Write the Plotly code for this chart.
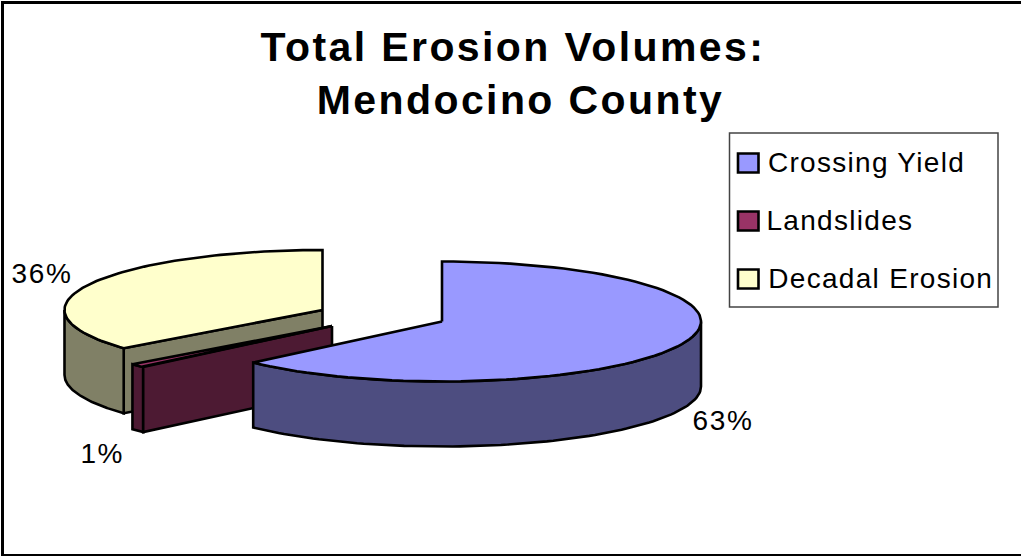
import numpy as np
import plotly.graph_objects as go

title_lines = ["Total Erosion Volumes:", "Mendocino County"]
categories = ["Crossing Yield", "Landslides", "Decadal Erosion"]
values = [63, 1, 36]
top_colors = ["#9999FF", "#993366", "#FFFFCC"]
wall_colors = ["#4D4D80", "#4D1A33", "#808066"]

# Layout of the drawing, in page pixels
centers = [(442, 321.5), (332, 326), (322.5, 310)]
radii = [(259, 60), (259, 60), (258, 60)]
depth = 65
draw_order = [2, 1, 0]
label_xy = [(723, 420), (102, 453), (42, 273)]
legend_box = (729.5, 133, 998, 307)
legend_y = [163, 221, 279]
legend_text_y = [162, 220, 278]
legend_text_x = [866, 840, 880]
title_xy = [(512.5, 47), (520, 100)]
LINE = "#000000"


def rim(c, r, t0, t1, dy=0, n=90):
    t = np.radians(np.linspace(t0, t1, n))
    return c[0] + r[0] * np.sin(t), c[1] - r[1] * np.cos(t) + dy


def poly(x, y, color):
    return go.Scatter(x=list(x) + [x[0]], y=list(y) + [y[0]], mode="lines", fill="toself",
                      fillcolor=color, line=dict(color=LINE, width=2.6), hoverinfo="skip",
                      showlegend=False)


edges = np.cumsum([0] + values) / sum(values) * 360
fig = go.Figure()

for i in draw_order:
    c, r = centers[i], radii[i]
    t0, t1 = edges[i], edges[i + 1]
    # outer wall: the part of the rim facing the viewer (90..270 degrees)
    a, b = max(t0, 90), min(t1, 270)
    xa, ya = rim(c, r, a, b)
    xb, yb = rim(c, r, a, b, depth)
    if i == 2:
        # cut face on the starting edge of the slice
        ex, ey = rim(c, r, t0, t0, n=1)
        fig.add_trace(poly([c[0], ex[0], ex[0], c[0]],
                           [c[1], ey[0], ey[0] + depth, c[1] + depth], wall_colors[i]))
    fig.add_trace(poly(np.r_[xa, xb[::-1]], np.r_[ya, yb[::-1]], wall_colors[i]))
    if i == 1:
        # cut face on the starting edge, in front of the slim outer wall
        ex, ey = rim(c, r, t0, t0, n=1)
        fig.add_trace(poly([c[0], ex[0], ex[0], c[0]],
                           [c[1], ey[0], ey[0] + depth, c[1] + depth], wall_colors[i]))
    # top face
    xt, yt = rim(c, r, t0, t1)
    fig.add_trace(poly(np.r_[c[0], xt], np.r_[c[1], yt], top_colors[i]))

annotations = []
for txt, (x, y) in zip(title_lines, title_xy):
    annotations.append(dict(x=x, y=y, text=f"<b>{txt}</b>", showarrow=False, xanchor="center",
                            yanchor="middle", font=dict(size=41, color="#000000",
                                                        family="Liberation Sans")))
for v, (x, y) in zip(values, label_xy):
    annotations.append(dict(x=x, y=y, text=f"{v}%", showarrow=False, xanchor="center",
                            yanchor="middle", font=dict(size=28, color="#000000",
                                                        family="Liberation Sans")))
for name, x, y in zip(categories, legend_text_x, legend_text_y):
    annotations.append(dict(x=x, y=y, text=name, showarrow=False, xanchor="center",
                            yanchor="middle", font=dict(size=28, color="#000000",
                                                        family="Liberation Sans")))

shapes = [
    dict(type="rect", x0=legend_box[0], y0=legend_box[1], x1=legend_box[2], y1=legend_box[3],
         line=dict(color="#444444", width=1.5), fillcolor="#FFFFFF", layer="below"),
    dict(type="line", x0=2.5, x1=2.5, y0=2.5, y1=556, line=dict(color="#000000", width=3)),
    dict(type="line", x0=1, x1=1021, y0=2.5, y1=2.5, line=dict(color="#000000", width=3)),
    dict(type="line", x0=1, x1=1021, y0=555, y1=555, line=dict(color="#000000", width=2)),
]
for col, y in zip(top_colors, legend_y):
    shapes.append(dict(type="rect", x0=738, x1=758.5, y0=y - 9.5, y1=y + 9.5, fillcolor=col,
                       line=dict(color="#000000", width=2.6)))

fig.update_layout(
    width=1021, height=556, margin=dict(l=0, r=0, t=0, b=0), autosize=False,
    paper_bgcolor="#FFFFFF", plot_bgcolor="#FFFFFF", showlegend=False,
    xaxis=dict(range=[0, 1021], visible=False, fixedrange=True),
    yaxis=dict(range=[556, 0], visible=False, fixedrange=True),
    annotations=annotations, shapes=shapes,
)

post = """
document.body.style.margin='0';
document.querySelectorAll('.annotation-text').forEach(function(t){
  t.style.letterSpacing = (t.textContent.indexOf('%')>=0) ? '1.6px' : (t.innerHTML.indexOf('bold')>=0 ? '2.4px' : '1.3px');
});
"""
fig.write_html("out.html", post_script=post, config={"displayModeBar": False})
